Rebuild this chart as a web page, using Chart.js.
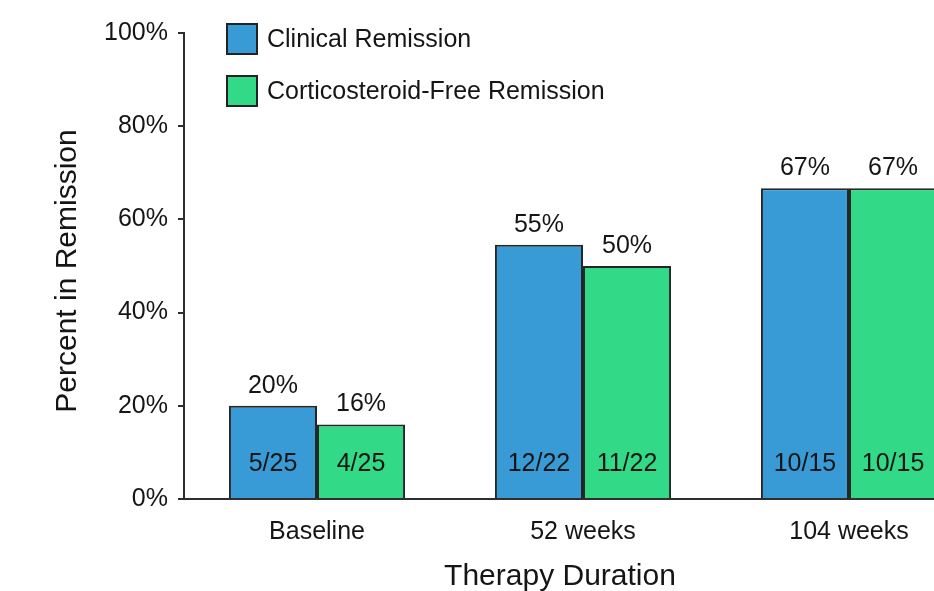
<!DOCTYPE html>
<html>
<head>
<meta charset="utf-8">
<title>Remission by Therapy Duration</title>
<script src="https://cdn.jsdelivr.net/npm/chart.js@4.4.1/dist/chart.umd.min.js"></script>
<style>
  html, body { margin: 0; padding: 0; background: #ffffff; overflow: hidden; }
  #wrap { width: 934px; height: 591px; overflow: hidden; }
  canvas { display: block; }
</style>
</head>
<body>
<div id="wrap"><canvas id="chart" width="1000" height="591"></canvas></div>
<script>
// Categories and raw counts (patients in remission / patients assessed)
const categories = ['Baseline', '52 weeks', '104 weeks'];
const clinicalCounts = [5, 12, 10];
const steroidFreeCounts = [4, 11, 10];
const patientTotals = [25, 22, 15];
const yTickValues = [0, 20, 40, 60, 80, 100];

const seriesNames = ['Clinical Remission', 'Corticosteroid-Free Remission'];
const seriesColors = ['#389bd6', '#32d986'];

const toPercent = counts => counts.map((n, i) => n / patientTotals[i] * 100);
const clinicalPct = toPercent(clinicalCounts);
const steroidFreePct = toPercent(steroidFreeCounts);

const FONT = '"Liberation Sans", Arial, Helvetica, sans-serif';
const INK = '#151515';
const AXIS = '#2e2e2e';

// Value labels: rounded percent above each bar, count fraction inside
const barLabels = {
  id: 'barLabels',
  afterDatasetsDraw(chart) {
    const ctx = chart.ctx;
    const counts = [clinicalCounts, steroidFreeCounts];
    ctx.save();
    ctx.font = '25px ' + FONT;
    ctx.fillStyle = INK;
    ctx.textAlign = 'center';
    ctx.textBaseline = 'alphabetic';
    chart.data.datasets.forEach((ds, di) => {
      chart.getDatasetMeta(di).data.forEach((bar, i) => {
        ctx.fillText(Math.round(ds.data[i]) + '%', bar.x, bar.y - 13);
        ctx.fillText(counts[di][i] + '/' + patientTotals[i], bar.x, bar.base - 27);
      });
    });
    ctx.restore();
  }
};

// Legend with square swatches stacked in the upper-left of the plot
const boxLegend = {
  id: 'boxLegend',
  afterDraw(chart) {
    const ctx = chart.ctx;
    const area = chart.chartArea;
    const x0 = area.left + 42;
    const y0 = area.top - 10;
    ctx.save();
    ctx.font = '25px ' + FONT;
    ctx.textBaseline = 'middle';
    ctx.textAlign = 'left';
    chart.data.datasets.forEach((ds, i) => {
      const y = y0 + i * 52;
      ctx.fillStyle = ds.backgroundColor;
      ctx.fillRect(x0, y, 32, 32);
      ctx.lineWidth = 2;
      ctx.strokeStyle = '#222';
      ctx.strokeRect(x0 + 1, y + 1, 30, 30);
      ctx.fillStyle = INK;
      ctx.fillText(ds.label, x0 + 41, y + 17);
    });
    ctx.restore();
  }
};

// Axis titles
const axisTitles = {
  id: 'axisTitles',
  afterDraw(chart) {
    const ctx = chart.ctx;
    const area = chart.chartArea;
    ctx.save();
    ctx.font = '30px ' + FONT;
    ctx.fillStyle = INK;
    ctx.textAlign = 'center';
    ctx.textBaseline = 'middle';
    ctx.fillText('Therapy Duration', 560, area.bottom + 78);
    ctx.translate(area.left - 116, (area.top + area.bottom) / 2 + 5);
    ctx.rotate(-Math.PI / 2);
    ctx.fillText('Percent in Remission', 0, 0);
    ctx.restore();
  }
};

new Chart(document.getElementById('chart'), {
  type: 'bar',
  data: {
    labels: categories,
    datasets: [
      {
        label: seriesNames[0],
        data: clinicalPct,
        backgroundColor: seriesColors[0],
        borderColor: '#262626',
        borderWidth: 2,
        borderSkipped: 'bottom'
      },
      {
        label: seriesNames[1],
        data: steroidFreePct,
        backgroundColor: seriesColors[1],
        borderColor: '#262626',
        borderWidth: 2,
        borderSkipped: 'bottom'
      }
    ]
  },
  options: {
    responsive: false,
    animation: false,
    devicePixelRatio: 1,
    layout: { padding: { left: 0, right: 18, top: 33, bottom: 0 } },
    plugins: {
      legend: { display: false },
      tooltip: { enabled: false }
    },
    datasets: {
      bar: { barPercentage: 1, categoryPercentage: 0.662 }
    },
    scales: {
      x: {
        grid: { display: false, drawTicks: false },
        border: { display: true, color: AXIS, width: 2 },
        ticks: {
          color: INK,
          font: { family: FONT, size: 25 },
          padding: 18,
          maxRotation: 0
        },
        afterFit(scale) { scale.height = 92; }
      },
      y: {
        min: 0,
        max: 100,
        afterBuildTicks(scale) {
          scale.ticks = yTickValues.map(v => ({ value: v }));
        },
        grid: {
          display: true,
          drawOnChartArea: false,
          drawTicks: true,
          tickLength: 6,
          color: AXIS,
          lineWidth: 2
        },
        border: { display: true, color: AXIS, width: 2 },
        ticks: {
          color: INK,
          font: { family: FONT, size: 25 },
          padding: 10,
          callback: v => v + '%'
        },
        afterFit(scale) { scale.width = 184; }
      }
    }
  },
  plugins: [barLabels, boxLegend, axisTitles]
});
</script>
</body>
</html>
